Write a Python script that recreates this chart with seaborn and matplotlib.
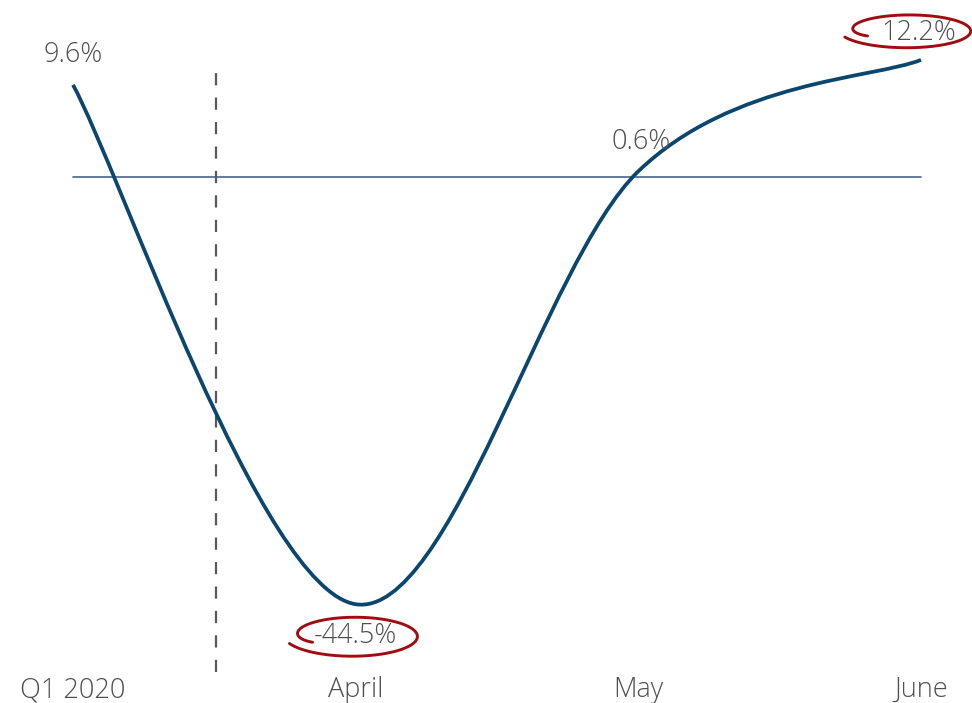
import numpy as np
import pandas as pd
import matplotlib
matplotlib.use("Agg")
import matplotlib.pyplot as plt
from matplotlib.path import Path
from matplotlib.patches import PathPatch
import matplotlib.transforms as mtransforms
import seaborn as sns

# Growth by period, percent
periods = ["Q1 2020", "April", "May", "June"]
growth = [9.6, -44.5, 0.6, 12.2]
value_labels = ["9.6%", "-44.5%", "0.6%", "12.2%"]
highlighted = ["April", "June"]

LINE_COLOR = "#0b466e"
ZERO_COLOR = "#4a628c"
TEXT_COLOR = "#4f4f4f"
DIVIDER_COLOR = "#555a60"
RING_COLOR = "#a00d10"

sns.set_theme(style="white")
plt.rcParams["font.family"] = ["Open Sans", "DejaVu Sans"]

fig = plt.figure(figsize=(9.72, 7.03), dpi=100)
ax = fig.add_axes([0, 0.0441, 1, 0.9559])

df = pd.DataFrame({"period": periods, "growth": growth})
df["pos"] = np.arange(len(df))

# Zero reference line across the full range
zero = pd.DataFrame({"pos": [df["pos"].iloc[0], df["pos"].iloc[-1]], "growth": [0, 0]})
sns.lineplot(data=zero, x="pos", y="growth", color=ZERO_COLOR, linewidth=1.2, ax=ax)

# Smoothed line through the points (Catmull-Rom style cubic Beziers)
pts = df[["pos", "growth"]].to_numpy(dtype=float)
ext = np.vstack([pts[0], pts, pts[-1]])
verts = [tuple(pts[0])]
codes = [Path.MOVETO]
for i in range(len(pts) - 1):
    p0, p1, p2, p3 = ext[i], ext[i + 1], ext[i + 2], ext[i + 3]
    c1 = p1 + (p2 - p0) / 6.0
    c2 = p2 - (p3 - p1) / 6.0
    verts += [tuple(c1), tuple(c2), tuple(p2)]
    codes += [Path.CURVE4] * 3
ax.add_patch(PathPatch(Path(verts, codes), facecolor="none", edgecolor=LINE_COLOR,
                       linewidth=2.7, capstyle="butt", zorder=3))

# Divider between the quarter and the monthly figures
ax.axvline(0.505, ymin=0, ymax=0.898, color=DIVIDER_COLOR, linewidth=1.6,
           linestyle=(0, (5.5, 5.5)), zorder=2)

# Value labels (offsets in points)
label_offsets = [(0, 21.5), (0, -23), (2, 21), (-2, 19.5)]
for (x, y), txt, off in zip(pts, value_labels, label_offsets):
    ax.annotate(txt, (x, y), xytext=off, textcoords="offset points",
                ha="center", va="center", fontsize=19.5, color=TEXT_COLOR,
                fontweight="light", zorder=4)


def ring(ax, x, y, dx, dy, rx, ry, start_deg):
    """Hand-drawn style loop around a label, sized in pixels."""
    trans = mtransforms.Affine2D().scale(1.0 / fig.dpi) + fig.dpi_scale_trans + \
        mtransforms.ScaledTranslation(x, y, ax.transData)
    t = np.linspace(0, 1, 300)
    theta = np.deg2rad(start_deg - 365 * t)
    r = 1.0 - 0.25 * np.exp(-t / 0.07) + 0.12 * t ** 4
    xs = dx + rx * r * np.cos(theta)
    ys = dy + ry * r * np.sin(theta)
    ax.plot(xs, ys, color=RING_COLOR, linewidth=2.1, transform=trans,
            solid_capstyle="round", clip_on=False, zorder=5)


ring_shapes = {"April": (-1, -32, 62, 19, 205), "June": (-12, 29, 61, 16, 205)}
for name in highlighted:
    i = periods.index(name)
    dx, dy, rx, ry, a0 = ring_shapes[name]
    ring(ax, pts[i, 0], pts[i, 1], dx, dy, rx, ry, a0)

ax.set_xlim(-0.2583, 3.1804)
ax.set_ylim(-51.56, 18.44)
ax.set_xticks(df["pos"], periods)
ax.set_yticks([])
ax.set_xlabel("")
ax.set_ylabel("")
ax.tick_params(axis="x", length=0, pad=3, labelsize=19.5, labelcolor=TEXT_COLOR)
for lab in ax.get_xticklabels():
    lab.set_fontweight("light")
sns.despine(ax=ax, left=True, bottom=True)

fig.savefig("out.png", dpi=100)
